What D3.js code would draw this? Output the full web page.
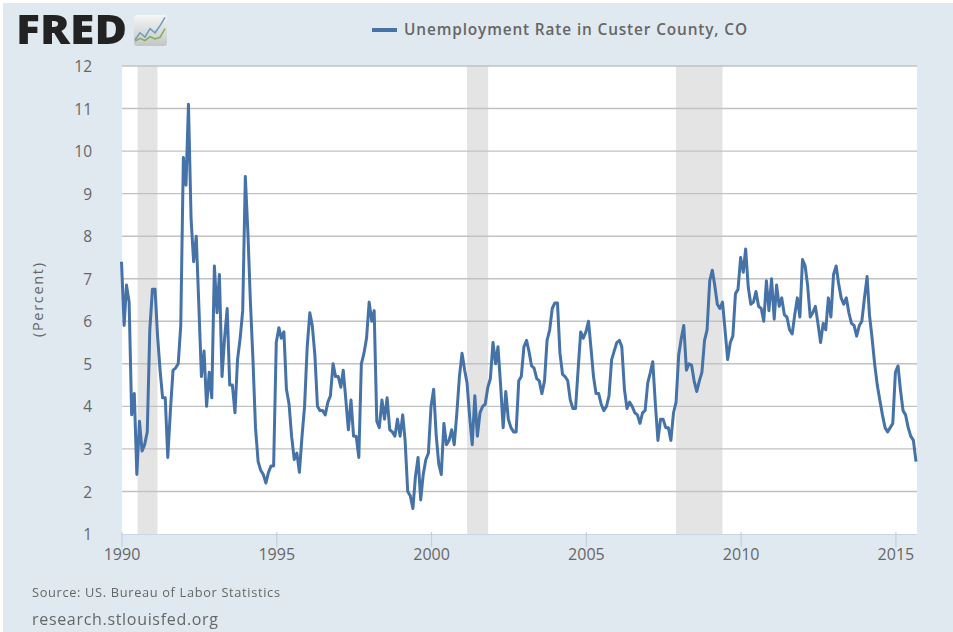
<!DOCTYPE html>
<html><head><meta charset="utf-8">
<script src="https://cdn.jsdelivr.net/npm/d3@7/dist/d3.min.js"></script>
<style>
html,body{margin:0;padding:0;background:#fff}
svg{display:block;filter:blur(0.55px)}
text{font-family:"Open Sans",sans-serif}
</style></head><body>
<svg id="c" width="953" height="632">
<defs><linearGradient id="iconFill" x1="0" y1="0" x2="0" y2="1"><stop offset="0" stop-color="#f4f5f5"/><stop offset="1" stop-color="#c4c6c6"/></linearGradient></defs>
</svg>
<script>
const seriesTitle = "Unemployment Rate in Custer County, CO";
const sourceText = "Source: US. Bureau of Labor Statistics";
const siteText = "research.stlouisfed.org";
const yTicks = [1,2,3,4,5,6,7,8,9,10,11,12];
const xTickYears = [1990,1995,2000,2005,2010,2015];
const startDate = [1990,0];
const endDate = [2015,8];
const recessions = [["1990-07-10","1991-03-01"],["2001-03-01","2001-11-05"],["2007-12-01","2009-06-01"]];
const rate1990 = [7.4,5.9,6.85,6.45,3.8,4.3,2.4,3.65,2.95,3.1,3.4,5.8];
const rate1991 = [6.75,6.75,5.7,4.85,4.2,4.2,2.8,3.9,4.85,4.9,5.0,5.9];
const rate1992 = [9.85,9.2,11.1,8.4,7.4,8.0,6.4,4.7,5.3,4.0,4.8,4.2];
const rate1993 = [7.3,6.2,7.1,4.7,5.6,6.3,4.5,4.5,3.85,5.1,5.6,6.25];
const rate1994 = [9.4,8.05,6.5,5.1,3.5,2.7,2.5,2.4,2.2,2.45,2.6,2.6];
const rate1995 = [5.5,5.85,5.6,5.75,4.4,4.05,3.3,2.75,2.9,2.45,3.3,4.0];
const rate1996 = [5.4,6.2,5.9,5.2,4.0,3.9,3.9,3.8,4.1,4.25,5.0,4.7];
const rate1997 = [4.7,4.45,4.85,4.15,3.45,4.15,3.3,3.3,2.8,5.0,5.25,5.6];
const rate1998 = [6.45,6.0,6.25,3.65,3.5,4.15,3.7,4.2,3.45,3.4,3.3,3.7];
const rate1999 = [3.3,3.8,3.2,2.0,1.9,1.6,2.35,2.8,1.8,2.4,2.75,2.9];
const rate2000 = [4.0,4.4,3.35,2.65,2.4,3.6,3.1,3.2,3.45,3.1,3.85,4.7];
const rate2001 = [5.25,4.85,4.55,3.75,3.1,4.25,3.3,3.85,4.0,4.05,4.45,4.65];
const rate2002 = [5.5,5.0,5.4,4.5,3.5,4.35,3.7,3.5,3.4,3.4,4.6,4.7];
const rate2003 = [5.4,5.55,5.3,4.95,4.9,4.65,4.6,4.3,4.6,5.55,5.8,6.3];
const rate2004 = [6.43,6.43,5.25,4.75,4.7,4.6,4.15,3.95,3.95,4.85,5.75,5.6];
const rate2005 = [5.75,6.0,5.4,4.7,4.3,4.3,4.05,3.9,4.0,4.25,5.1,5.3];
const rate2006 = [5.5,5.55,5.4,4.4,3.95,4.1,4.0,3.85,3.8,3.6,3.85,3.9];
const rate2007 = [4.55,4.8,5.05,4.05,3.2,3.7,3.7,3.5,3.5,3.2,3.85,4.1];
const rate2008 = [5.2,5.6,5.9,4.85,5.0,4.97,4.6,4.35,4.6,4.8,5.55,5.8];
const rate2009 = [6.95,7.2,6.85,6.4,6.3,6.45,5.8,5.1,5.5,5.65,6.65,6.75];
const rate2010 = [7.5,7.15,7.7,6.8,6.4,6.45,6.7,6.35,6.3,6.0,6.95,6.25];
const rate2011 = [7.0,6.05,6.85,6.35,6.55,6.15,6.1,5.8,5.7,6.15,6.55,6.1];
const rate2012 = [7.45,7.3,6.85,6.1,6.2,6.35,5.95,5.5,5.95,5.8,6.55,6.1];
const rate2013 = [7.1,7.3,6.9,6.55,6.4,6.55,6.2,5.95,5.9,5.65,5.9,6.0];
const rate2014 = [6.55,7.05,6.15,5.6,5.0,4.5,4.15,3.8,3.5,3.4,3.5,3.6];
const rate2015 = [4.8,4.95,4.4,3.9,3.8,3.5,3.3,3.2,2.7];
const rates = [].concat(rate1990,rate1991,rate1992,rate1993,rate1994,rate1995,rate1996,rate1997,rate1998,rate1999,rate2000,rate2001,rate2002,rate2003,rate2004,rate2005,rate2006,rate2007,rate2008,rate2009,rate2010,rate2011,rate2012,rate2013,rate2014,rate2015);
const logoBlue = [1.5,4,2.5,5.5,4,6.5,9.5];
const logoGreen = [1,2,1.2,2.6,1.8,2.4,5.5];

const svg = d3.select("#c");
const plotLeft=122,plotRight=917,plotTop=66,plotBottom=534;
svg.append("rect").attr("x",3).attr("y",3).attr("width",950).attr("height",629).attr("fill","#e1e9f0");
svg.append("rect").attr("x",plotLeft).attr("y",plotTop).attr("width",plotRight-plotLeft).attr("height",plotBottom-plotTop).attr("fill","#fff");

const x=d3.scaleTime().domain([new Date(startDate[0],startDate[1],1),new Date(endDate[0],endDate[1],1)]).range([121.5,916]);
const y=d3.scaleLinear().domain([1,12]).range([plotBottom,plotTop]);
const parse=d3.timeParse("%Y-%m-%d");

svg.append("g").selectAll("rect").data(recessions).join("rect")
 .attr("x",d=>x(parse(d[0]))).attr("width",d=>x(parse(d[1]))-x(parse(d[0])))
 .attr("y",plotTop).attr("height",plotBottom-plotTop).attr("fill","#e4e4e4");

const yAxis=svg.append("g").attr("transform",`translate(${plotLeft},0.6)`)
 .call(d3.axisLeft(y).tickValues(yTicks).tickSize(0).tickPadding(30).tickFormat(d3.format("d")));
yAxis.select(".domain").remove();
yAxis.selectAll("text").attr("font-size",15.5).attr("fill","#666").style("font-family",'"Open Sans",sans-serif');
svg.append("g").selectAll("line").data(yTicks.filter(v=>v>1)).join("line")
 .attr("x1",plotLeft).attr("x2",plotRight).attr("y1",d=>y(d)).attr("y2",d=>y(d))
 .attr("stroke","#c2c2c2").attr("stroke-width",1.4);

const xAxis=svg.append("g").attr("transform",`translate(0,${plotBottom})`)
 .call(d3.axisBottom(x).tickValues(xTickYears.map(v=>new Date(v,0,1))).tickSize(15).tickPadding(-6).tickFormat(d3.timeFormat("%Y")));
xAxis.select(".domain").attr("stroke","#c8d6e6").attr("stroke-width",1.2).attr("d",`M${plotLeft},0.5H${plotRight}`);
xAxis.selectAll("line").attr("stroke","#c0d0e0").attr("stroke-width",1.2).attr("y1",-2).attr("y2",13);
xAxis.selectAll("text").attr("font-size",16).attr("fill","#666").style("font-family",'"Open Sans",sans-serif').attr("y",15);

const line=d3.line().x((d,i)=>x(new Date(startDate[0],startDate[1]+i,1))).y(d=>y(d)).curve(d3.curveLinear);
svg.append("path").datum(rates).attr("d",line).attr("fill","none").attr("stroke","#4572a7").attr("stroke-width",3).attr("stroke-linejoin","round");

// legend
svg.append("line").attr("x1",372).attr("x2",397).attr("y1",30).attr("y2",30).attr("stroke","#4572a7").attr("stroke-width",4);
svg.append("text").attr("x",404).attr("y",35).attr("font-size",15.4).attr("font-weight",600).attr("fill","#666").attr("textLength",343).text(seriesTitle);

svg.append("text").attr("transform","translate(43,300) rotate(-90)").attr("text-anchor","middle").attr("font-size",14.5).attr("fill","#666").attr("textLength",74).text("(Percent)");
svg.append("text").attr("x",32).attr("y",597).attr("font-size",12.8).attr("fill","#666").attr("textLength",248).text(sourceText);
svg.append("text").attr("x",32).attr("y",625).attr("font-size",16).attr("fill","#666").attr("textLength",186).text(siteText);

// logo
svg.append("text").attr("x",16).attr("y",44).attr("font-size",40).attr("font-weight",800).attr("fill","#222").attr("textLength",111).attr("lengthAdjust","spacingAndGlyphs").text("FRED");
svg.append("rect").attr("x",134).attr("y",15).attr("width",33).attr("height",31).attr("rx",3).attr("fill","url(#iconFill)");
const lx=d3.scaleLinear().domain([0,6]).range([135,165]);
const ly=d3.scaleLinear().domain([0,10]).range([44,16]);
const ll=d3.line().x((d,i)=>lx(i)).y(d=>ly(d));
svg.append("path").datum(logoBlue).attr("d",ll).attr("fill","none").attr("stroke","#6d9cc0").attr("stroke-width",1.5);
svg.append("path").datum(logoGreen).attr("d",ll).attr("fill","none").attr("stroke","#7fae5a").attr("stroke-width",1.5);
</script>
</body></html>
